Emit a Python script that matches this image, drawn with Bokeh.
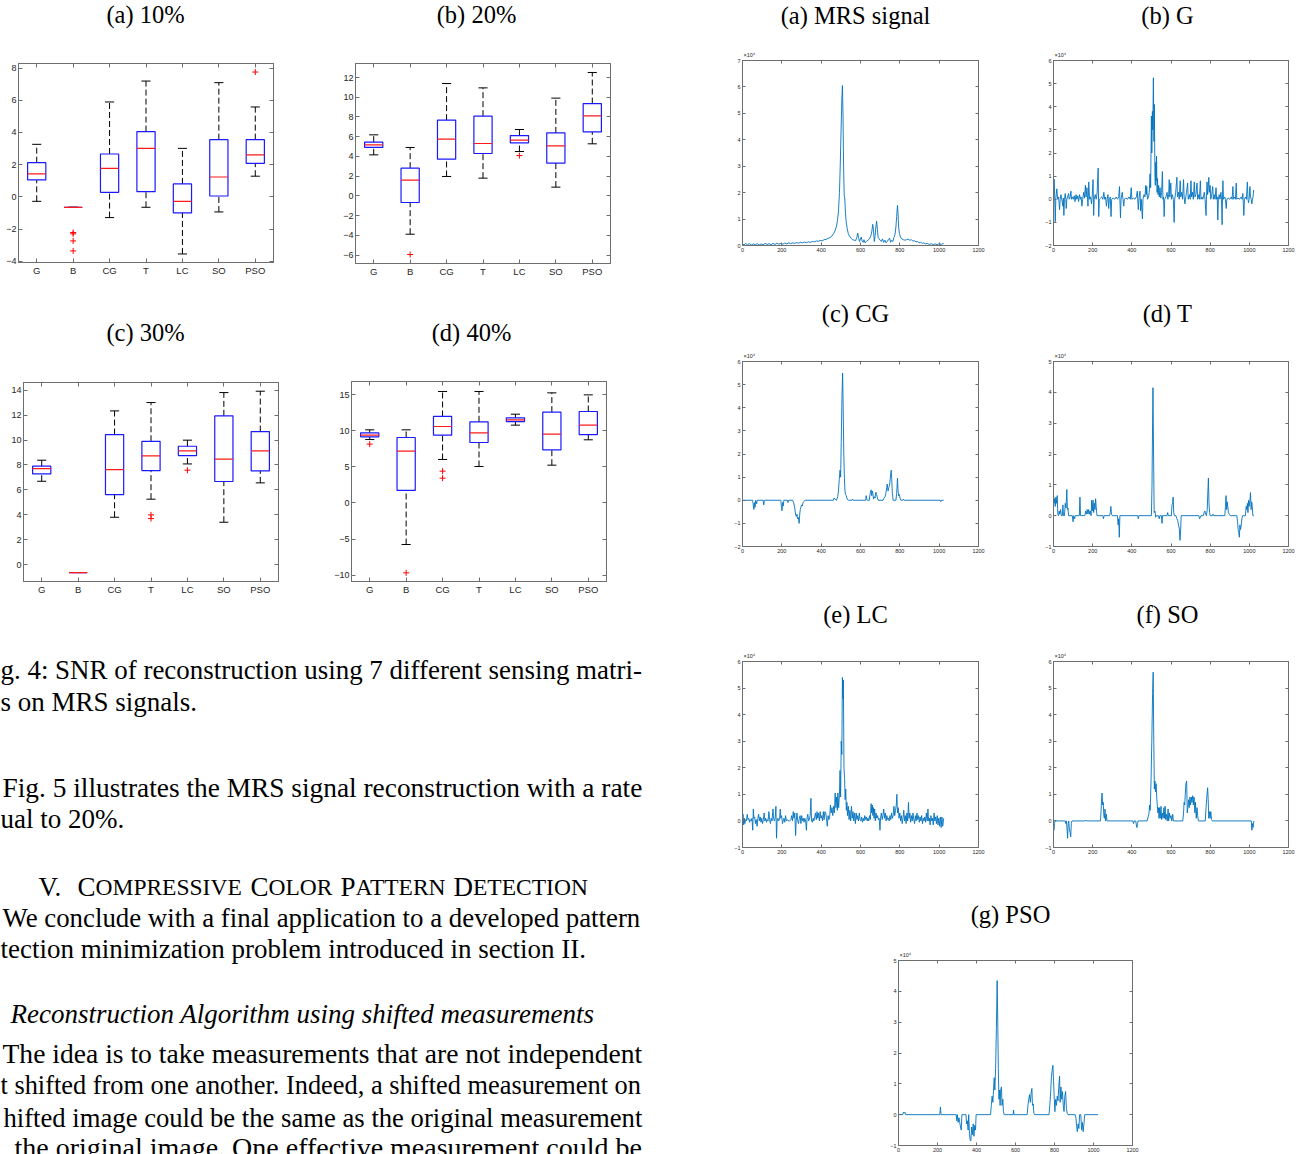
from bokeh.plotting import figure
from bokeh.layouts import row, column
from bokeh.models import Range1d, LinearAxis, FixedTicker, Spacer
from bokeh.embed import file_html
from bokeh.resources import INLINE
from bokeh.core.properties import value

# ---------------- data ----------------
CATS = ["G", "B", "CG", "T", "LC", "SO", "PSO"]

# (a) 10%
A_WLO = [-0.28, -0.65, -1.29, -0.65, -3.55, -0.94, 1.28]
A_Q1 = [1.05, -0.65, 0.28, 0.32, -1.00, 0.05, 2.08]
A_MED = [1.42, -0.65, 1.77, 3.01, -0.28, 1.23, 2.60]
A_Q3 = [2.12, -0.65, 2.66, 4.05, 0.80, 3.55, 3.55]
A_WHI = [3.26, -0.65, 5.89, 7.19, 3.01, 7.09, 5.58]
A_OUT_CAT = ["B", "B", "B", "B", "PSO"]
A_OUT_VAL = [-2.22, -2.30, -2.74, -3.36, 7.75]
A_YTICKS = [-4, -2, 0, 2, 4, 6, 8]

# (b) 20%
B_WLO = [4.16, -3.88, 1.97, 1.80, 4.50, 0.89, 5.28]
B_Q1 = [4.91, -0.67, 3.72, 4.30, 5.38, 3.32, 6.49]
B_MED = [5.18, 1.59, 5.75, 5.31, 5.65, 5.07, 8.11]
B_Q3 = [5.45, 2.81, 7.68, 8.08, 6.12, 6.39, 9.36]
B_WHI = [6.19, 4.91, 11.39, 10.95, 6.73, 9.91, 12.51]
B_OUT_CAT = ["B", "LC"]
B_OUT_VAL = [-5.94, 4.09]
B_YTICKS = [-6, -4, -2, 0, 2, 4, 6, 8, 10, 12]

# (c) 30%
C_WLO = [6.69, -0.64, 3.80, 5.25, 8.08, 3.40, 6.56]
C_Q1 = [7.28, -0.64, 5.62, 7.55, 8.75, 6.67, 7.52]
C_MED = [7.71, -0.64, 7.63, 8.73, 9.13, 8.46, 9.13]
C_Q3 = [7.90, -0.64, 10.44, 9.90, 9.50, 11.94, 10.68]
C_WHI = [8.38, -0.64, 12.34, 13.01, 9.99, 13.81, 13.92]
C_OUT_CAT = ["T", "T", "LC"]
C_OUT_VAL = [3.99, 3.69, 7.58]
C_YTICKS = [0, 2, 4, 6, 8, 10, 12, 14]

# (d) 40%
D_WLO = [8.77, -5.76, 6.01, 5.04, 10.76, 5.22, 8.73]
D_Q1 = [9.14, 1.72, 9.37, 8.36, 11.26, 7.34, 9.46]
D_MED = [9.37, 7.16, 10.57, 9.70, 11.49, 9.51, 10.76]
D_Q3 = [9.70, 9.05, 11.96, 11.22, 11.77, 12.56, 12.65]
D_WHI = [10.11, 10.11, 15.42, 15.42, 12.28, 15.23, 14.95]
D_OUT_CAT = ["G", "B", "CG", "CG"]
D_OUT_VAL = [8.13, -9.68, 4.39, 3.42]
D_YTICKS = [-10, -5, 0, 5, 10, 15]

# reconstructed MRS signals (index, value in units of 1e4)
MRS_SIG = [(0,0.06),(8,0.02),(15,0.08),(25,0.03),(35,0.07),(45,0.02),(55,0.06),(65,0.03),(75,0.07),(85,0.02),(95,0.06),(105,0.03),(115,0.08),(125,0.04),(135,0.07),(145,0.03),(155,0.08),(165,0.04),(175,0.09),(185,0.05),(195,0.08),(205,0.05),(215,0.09),(225,0.06),(235,0.1),(245,0.07),(255,0.1),(265,0.08),(275,0.11),(285,0.09),(295,0.12),(305,0.1),(315,0.13),(325,0.11),(335,0.14),(345,0.12),(355,0.15),(365,0.14),(375,0.17),(385,0.16),(395,0.19),(405,0.18),(415,0.22),(425,0.23),(435,0.27),(445,0.3),(455,0.36),(463,0.45),(470,0.55),(477,0.7),(483,0.95),(488,1.3),(493,2.0),(497,3.0),(501,4.3),(505,5.5),(508,6.05),(511,5.0),(514,3.0),(517,1.9),(520,1.8),(523,1.3),(527,0.9),(532,0.65),(538,0.45),(545,0.35),(552,0.28),(560,0.22),(568,0.2),(575,0.18),(581,0.3),(586,0.47),(590,0.3),(595,0.15),(600,0.25),(604,0.32),(608,0.18),(613,0.12),(618,0.22),(623,0.1),(630,0.15),(638,0.2),(645,0.25),(652,0.35),(658,0.55),(662,0.8),(666,0.6),(670,0.15),(674,0.35),(678,0.7),(682,0.92),(686,0.6),(690,0.3),(695,0.25),(700,0.2),(706,0.15),(712,0.25),(718,0.12),(724,0.2),(730,0.1),(736,0.15),(742,0.22),(748,0.28),(753,0.12),(758,0.2),(764,0.15),(770,0.3),(775,0.4),(780,0.7),(784,1.1),(788,1.52),(791,1.2),(794,0.7),(798,0.45),(803,0.32),(810,0.25),(818,0.22),(826,0.2),(834,0.22),(842,0.24),(850,0.2),(858,0.22),(866,0.17),(874,0.18),(882,0.14),(890,0.15),(898,0.1),(906,0.12),(914,0.08),(922,0.1),(930,0.06),(940,0.08),(950,0.04),(960,0.07),(970,0.03),(980,0.06),(990,0.03),(1000,0.07),(1010,0.04),(1023,0.08)]

G_SIG = [(0,0.0),(3,0.87),(6,0.1),(9,-0.97),(12,0.05),(17,0.45),(21,0.0),(26,0.1),(31,-0.45),(34,0.0),(38,0.2),(42,0.0),(48,-0.3),(50,0.05),(53,-0.7),(56,0.0),(60,0.25),(63,0.0),(65,-0.4),(68,0.0),(72,0.1),(77,0.25),(80,0.0),(84,0.05),(89,0.35),(92,0.0),(97,0.1),(101,0.0),(106,0.15),(110,-0.1),(115,0.2),(119,0.0),(124,0.15),(128,-0.1),(133,0.2),(137,0.0),(141,0.1),(145,-0.3),(149,0.0),(154,0.3),(158,0.05),(163,0.6),(166,0.1),(171,0.5),(174,0.0),(176,-0.3),(178,0.1),(180,0.75),(184,0.0),(189,0.1),(194,-0.2),(198,0.2),(202,0.85),(205,-0.7),(208,0.0),(213,0.2),(218,0.0),(223,0.3),(228,1.35),(231,-0.75),(234,0.0),(240,0.05),(246,0.1),(252,0.0),(257,0.3),(261,0.0),(266,0.1),(270,-0.3),(274,0.0),(278,0.2),(282,-0.4),(285,0.0),(290,0.1),(294,-0.75),(297,0.0),(305,0.05),(313,0.0),(320,0.1),(327,0.0),(333,0.1),(337,0.55),(342,-0.8),(345,0.0),(351,0.3),(355,0.0),(359,-0.3),(362,0.0),(370,0.05),(378,0.0),(386,0.1),(392,0.0),(397,0.5),(400,0.0),(408,0.05),(416,0.0),(423,0.1),(428,0.35),(433,-0.45),(437,0.1),(442,0.35),(445,-0.5),(448,0.0),(454,-0.85),(457,0.0),(462,0.2),(467,0.1),(471,0.6),(474,0.2),(476,0.55),(480,0.0),(485,0.1),(489,0.3),(493,1.1),(496,0.5),(500,3.6),(502,2.0),(505,3.8),(507,3.0),(510,5.25),(513,2.5),(515,4.1),(518,1.0),(520,0.6),(522,1.6),(524,0.8),(526,1.87),(529,0.3),(531,0.9),(534,0.2),(537,0.6),(540,0.1),(544,0.5),(548,0.05),(552,0.3),(556,1.2),(559,0.0),(562,0.1),(565,-0.75),(568,0.0),(574,0.1),(580,0.3),(584,0.0),(588,0.2),(591,0.85),(594,0.1),(599,0.7),(602,0.0),(607,0.2),(612,0.0),(616,-1.0),(619,0.0),(624,0.3),(630,0.95),(633,0.1),(638,0.3),(642,0.0),(647,0.8),(650,0.1),(655,0.3),(659,0.0),(664,0.85),(667,0.1),(671,-0.2),(674,0.0),(679,0.3),(685,0.7),(688,0.0),(694,0.2),(698,0.0),(702,0.8),(705,0.1),(710,0.3),(714,0.0),(719,0.75),(722,0.1),(727,0.2),(733,0.7),(736,0.0),(741,0.2),(745,0.0),(750,0.8),(753,0.0),(758,0.1),(763,0.0),(770,0.3),(774,0.0),(779,-0.7),(781,0.0),(784,0.75),(787,0.2),(790,0.5),(793,0.95),(796,0.3),(800,0.6),(803,0.0),(808,0.2),(813,0.55),(816,0.0),(821,0.2),(825,0.0),(830,0.5),(833,0.0),(836,0.1),(839,-0.9),(842,0.0),(846,0.2),(850,0.0),(855,0.3),(858,0.0),(861,-1.1),(863,0.1),(865,0.8),(868,0.0),(874,0.1),(878,0.0),(882,-0.4),(885,0.0),(892,0.05),(900,0.0),(908,0.1),(912,0.0),(916,0.55),(919,0.0),(925,0.1),(929,0.0),(933,0.7),(936,0.0),(942,0.05),(950,0.0),(958,0.1),(963,0.0),(967,0.25),(972,-0.7),(975,0.0),(980,0.1),(985,0.0),(990,0.75),(993,0.0),(996,-0.15),(999,0.0),(1003,0.55),(1006,0.1),(1010,0.0),(1013,-0.2),(1016,0.0),(1019,0.1),(1022,0.4)]

CG_SIG = [(0,0),(52,0),(55,-0.25),(58,-0.4),(61,-0.1),(64,-0.3),(67,0),(72,-0.15),(75,0),(105,0),(108,-0.2),(111,0),(195,0),(198,-0.3),(201,-0.45),(204,-0.1),(207,-0.25),(210,0),(228,0),(231,-0.1),(234,0),(255,0),(260,-0.1),(265,-0.3),(269,-0.55),(273,-0.7),(277,-0.6),(280,-0.8),(284,-0.75),(288,-1.0),(291,-0.6),(294,-0.4),(297,-0.3),(300,-0.2),(304,-0.25),(308,-0.1),(312,-0.05),(318,0),(462,0),(466,0.1),(470,0.05),(478,0),(484,0.15),(488,0.4),(492,0.9),(496,1.3),(499,1.0),(502,2.5),(506,4.5),(509,5.5),(512,4.0),(515,2.0),(518,1.0),(521,0.4),(524,0.25),(528,0.2),(532,0.05),(538,0),(556,0),(559,0.05),(562,0),(626,0),(629,0.2),(632,0.05),(635,0),(645,0),(648,0.25),(651,0.35),(654,0.45),(657,0.2),(660,0.4),(663,0.3),(666,0.05),(670,0.15),(674,0.1),(678,0.35),(682,0.25),(686,0.1),(690,0),(715,0),(720,0.1),(725,0.15),(729,0.3),(733,0.55),(736,0.7),(740,0.4),(744,0.55),(748,0.65),(752,1.0),(756,1.3),(759,0.9),(762,0.3),(766,0),(780,0),(784,0.3),(788,0.95),(791,0.4),(794,0.2),(797,0.25),(801,0.1),(806,0),(815,0),(818,0.05),(822,0),(1005,0),(1008,-0.06),(1012,0),(1023,0)]

T_SIG = [(0,0.7),(3,0.4),(6,0.55),(9,0.3),(12,0.6),(15,0.4),(19,0.65),(22,0.05),(26,0.0),(29,0.15),(32,0.05),(36,0.2),(40,0.0),(45,0.0),(48,0.35),(51,0.0),(56,0.0),(60,0.4),(64,0.25),(68,0.85),(71,0.2),(74,0.25),(77,0.0),(96,0.0),(100,-0.2),(103,0.0),(108,-0.1),(111,0.0),(132,0.0),(135,0.6),(138,0.0),(160,0.0),(164,0.15),(168,0.05),(172,0.2),(176,0.05),(180,0.2),(184,0.05),(188,0.15),(192,0.0),(195,0.5),(198,0.15),(202,0.5),(205,0.1),(209,0.4),(212,0.2),(215,0.55),(218,0.3),(222,0.0),(252,0.0),(255,-0.1),(258,0.0),(286,0.0),(290,0.1),(293,0.3),(296,0.05),(300,0.0),(326,0.0),(330,-0.3),(333,-0.1),(336,-0.7),(339,0.0),(430,0.0),(433,-0.1),(436,0.0),(500,0.0),(503,1.0),(506,3.0),(508,4.15),(511,2.0),(514,0.1),(518,0.15),(522,-0.05),(526,0.0),(536,0.0),(540,-0.1),(543,0.0),(551,0.0),(554,-0.25),(557,0.0),(580,0.0),(583,0.1),(586,0.0),(602,0.0),(605,0.35),(608,0.4),(611,0.6),(614,0.1),(617,0.0),(625,0.0),(630,-0.1),(634,-0.15),(638,-0.3),(642,-0.4),(646,-0.8),(649,-0.5),(652,0.0),(742,0.0),(746,-0.1),(750,-0.05),(753,0.0),(765,0.0),(769,0.1),(773,0.15),(777,0.05),(781,0.0),(785,0.2),(789,0.9),(791,1.22),(794,0.4),(797,0.1),(800,0.0),(812,0.0),(815,0.05),(818,0.0),(875,0.0),(878,0.3),(881,0.65),(884,0.2),(887,0.45),(890,0.3),(893,0.1),(898,0.05),(903,0.0),(936,0.0),(940,-0.2),(943,-0.45),(946,-0.55),(949,-0.7),(952,-0.3),(955,-0.45),(958,-0.35),(962,-0.1),(966,0.0),(980,0.0),(984,0.3),(987,0.2),(990,0.4),(993,0.1),(996,0.5),(999,0.3),(1003,0.5),(1006,0.75),(1009,0.2),(1012,0.45),(1015,0.3),(1018,0.0),(1023,0.0)]

LC_SIG = [(0,0.1),(3,0.25),(6,-0.15),(9,0.1),(12,-0.1),(16,0.05),(20,0.0),(24,0.25),(28,0.05),(32,0.1),(36,-0.05),(40,0.05),(44,0.0),(48,0.1),(52,-0.35),(55,0.45),(58,0.1),(62,0.15),(66,-0.1),(70,0.05),(74,-0.2),(78,0.1),(82,0.25),(86,0.0),(90,0.15),(94,-0.05),(98,0.1),(102,-0.1),(106,0.05),(110,0.3),(114,0.0),(118,0.1),(122,-0.05),(126,0.05),(130,0.0),(134,0.35),(138,0.05),(142,-0.1),(146,0.1),(150,0.0),(155,0.45),(158,0.1),(162,0.0),(166,0.1),(170,0.55),(173,-0.65),(176,0.0),(180,0.1),(184,0.0),(188,0.05),(192,0.45),(195,0.1),(199,0.2),(203,-0.1),(207,0.0),(211,0.1),(215,-0.05),(219,0.2),(223,0.0),(228,0.05),(233,0.0),(240,0.0),(246,0.05),(250,0.2),(254,0.0),(258,0.35),(262,0.1),(266,0.3),(270,-0.55),(273,0.0),(277,0.3),(281,0.0),(285,-0.1),(289,0.1),(293,0.2),(297,-0.1),(301,0.2),(305,0.0),(309,0.1),(313,-0.05),(317,0.1),(321,0.0),(325,-0.35),(328,0.1),(332,0.25),(336,0.0),(340,0.05),(344,0.2),(348,0.85),(351,0.0),(355,-0.05),(359,0.1),(363,0.0),(367,0.15),(371,0.3),(375,0.05),(379,0.35),(383,0.1),(387,0.3),(391,0.0),(395,0.35),(399,0.1),(403,0.2),(407,0.0),(411,0.35),(415,0.05),(419,0.35),(423,0.3),(427,0.1),(431,-0.2),(435,0.2),(439,0.05),(443,0.1),(447,0.6),(451,0.3),(455,0.5),(459,0.2),(463,0.55),(467,0.3),(471,1.05),(475,0.5),(479,0.9),(482,0.4),(485,1.05),(489,0.5),(493,1.0),(496,1.9),(499,0.9),(502,3.0),(505,2.5),(508,5.4),(511,4.6),(513,5.3),(516,2.0),(519,1.6),(522,0.8),(525,1.2),(528,0.4),(531,0.7),(534,0.2),(538,0.55),(542,0.05),(546,0.4),(550,0.0),(554,0.55),(558,0.1),(562,0.35),(566,0.0),(570,0.3),(574,-0.1),(578,0.3),(582,0.05),(586,0.2),(590,0.0),(594,0.3),(598,0.05),(602,0.0),(606,0.15),(610,-0.05),(614,0.1),(618,0.0),(622,0.2),(626,0.05),(630,0.15),(634,0.0),(638,0.1),(642,0.0),(646,0.2),(650,0.05),(654,0.65),(657,0.3),(660,0.6),(663,0.2),(666,0.5),(669,0.1),(672,0.45),(675,0.0),(679,0.3),(683,0.1),(687,0.2),(691,0.05),(695,0.1),(699,-0.35),(702,0.1),(706,0.3),(710,0.05),(714,0.2),(718,0.45),(722,0.1),(726,0.3),(730,0.0),(734,0.2),(738,0.05),(742,0.1),(746,0.0),(750,0.2),(754,0.05),(758,0.3),(762,0.1),(766,0.2),(770,0.55),(774,0.2),(778,0.4),(782,0.6),(785,1.0),(788,0.3),(792,0.5),(796,0.1),(800,0.3),(804,0.0),(808,0.2),(812,-0.1),(816,0.1),(820,0.4),(824,0.0),(828,0.2),(832,-0.1),(836,0.3),(840,0.0),(844,0.7),(847,0.1),(851,0.3),(855,-0.05),(859,0.2),(863,0.0),(867,0.3),(871,0.05),(875,-0.1),(879,0.2),(883,0.0),(887,0.3),(891,0.05),(895,0.2),(899,-0.05),(903,0.15),(907,0.0),(911,0.2),(915,-0.1),(919,0.1),(923,0.0),(927,0.15),(931,-0.05),(935,0.3),(939,0.0),(943,0.45),(946,0.0),(950,0.1),(954,-0.15),(958,0.2),(962,0.0),(966,0.1),(970,-0.15),(974,0.3),(978,0.0),(982,0.15),(986,-0.1),(990,0.2),(994,-0.15),(998,0.1),(1002,-0.2),(1006,0.15),(1010,-0.25),(1014,0.15),(1018,-0.2),(1023,0.1)]

SO_SIG = [(0,0.0),(2,-0.35),(5,-0.1),(8,0.0),(60,0.0),(63,-0.1),(66,0.0),(69,-0.3),(72,-0.65),(75,-0.1),(78,0.0),(81,-0.3),(85,-0.45),(88,-0.6),(91,-0.1),(94,0.0),(162,0.0),(165,0.03),(168,0.0),(240,0.0),(243,0.4),(246,0.9),(248,1.05),(251,0.6),(254,0.7),(257,0.2),(260,0.1),(263,0.45),(266,0.0),(270,0.25),(273,0.0),(405,0.0),(409,-0.1),(412,0.0),(420,0.0),(423,-0.15),(426,-0.25),(429,-0.1),(432,0.0),(478,0.0),(483,0.15),(487,0.25),(491,0.6),(494,0.4),(498,1.5),(502,3.0),(506,4.8),(509,5.6),(512,3.0),(515,1.2),(518,1.5),(521,1.1),(524,1.4),(527,0.9),(530,0.6),(533,0.3),(536,0.5),(539,0.1),(542,0.5),(545,0.1),(549,0.55),(552,0.05),(556,0.3),(560,0.1),(564,0.5),(567,0.1),(570,0.55),(573,0.05),(577,0.25),(581,0.0),(585,0.45),(588,0.0),(592,0.3),(596,0.1),(600,0.2),(604,0.0),(609,0.25),(612,0.0),(660,0.0),(664,0.3),(667,0.7),(670,0.6),(673,1.0),(676,1.4),(680,1.5),(683,0.3),(686,0.5),(690,0.8),(693,0.5),(697,0.9),(700,0.6),(704,0.9),(707,0.7),(711,0.95),(714,0.6),(718,0.9),(722,0.3),(725,0.7),(729,0.1),(733,0.5),(736,0.2),(740,0.0),(775,0.0),(779,0.5),(783,0.9),(787,1.25),(790,0.8),(793,0.1),(796,0.35),(800,0.1),(803,0.35),(807,0.05),(811,0.0),(1010,0.0),(1013,-0.35),(1016,-0.1),(1019,-0.25),(1023,0.0)]

PSO_SIG = [(0,0.0),(22,0.0),(25,0.08),(29,0.05),(33,0.08),(37,0.0),(212,0.0),(215,0.25),(218,0.0),(296,0.0),(299,-0.2),(302,0.0),(306,-0.25),(310,-0.1),(314,-0.25),(318,-0.4),(322,-0.5),(325,0.0),(346,0.0),(349,-0.3),(353,-0.2),(357,-0.5),(360,0.0),(364,-0.6),(367,-0.8),(371,-0.85),(375,-0.4),(379,-0.65),(383,-0.3),(387,-0.7),(391,-0.35),(395,-0.5),(398,0.0),(472,0.0),(476,0.3),(480,0.6),(484,0.4),(488,0.9),(491,1.2),(494,0.8),(498,1.5),(502,2.8),(506,4.35),(509,3.0),(512,1.5),(515,0.5),(518,0.8),(521,0.3),(524,0.8),(528,0.9),(531,0.3),(535,0.5),(538,0.1),(542,0.0),(588,0.0),(590,0.15),(592,0.0),(660,0.0),(664,0.3),(668,0.5),(672,0.65),(676,0.4),(680,0.7),(684,0.85),(687,0.3),(691,0.35),(694,0.05),(698,0.0),(772,0.0),(776,0.3),(780,0.7),(784,1.2),(788,1.45),(792,1.6),(795,1.1),(799,0.5),(802,0.1),(806,0.5),(810,0.3),(814,0.6),(818,0.45),(822,0.9),(826,1.25),(829,0.4),(833,0.9),(837,0.5),(841,0.75),(845,0.3),(849,0.1),(853,0.6),(857,0.75),(861,0.2),(865,0.05),(869,0.0),(906,0.0),(910,-0.1),(913,-0.35),(917,-0.55),(921,-0.3),(925,-0.45),(929,0.0),(935,0.0),(939,-0.5),(943,-0.25),(947,-0.55),(951,-0.3),(955,0.0),(1023,0.0)]

SIG_XTICKS = [0, 200, 400, 600, 800, 1000, 1200]

BODY_LINES = [
    "g. 4: SNR of reconstruction using 7 different sensing matri-",
    "s on MRS signals.",
    "Fig. 5 illustrates the MRS signal reconstruction with a rate",
    "ual to 20%.",
    "We conclude with a final application to a developed pattern",
    "tection minimization problem introduced in section II.",
    "The idea is to take measurements that are not independent",
    "t shifted from one another. Indeed, a shifted measurement on",
    "hifted image could be the same as the original measurement",
    "the original image. One effective measurement could be",
]
ITALIC_LINE = "Reconstruction Algorithm using shifted measurements"
HEAD_WORDS = ["V.", "COMPRESSIVE", "COLOR", "PATTERN", "DETECTION"]

# ---------------- style ----------------
AX = "#6e6e6e"
TXT = "#262626"
SANS = "Liberation Sans"
SERIF = "Liberation Serif"
LINE = "#0072BD"
TITLE_SIZE = "24.5px"
BODY_SIZE = 27.0
RIGHT_EDGE = 642

# Times-compatible advance widths (1/1000 em) used to fit justified lines
TW = {" ": 250, "%": 833, "(": 333, ")": 333, ",": 250, "-": 333, ".": 250, ":": 278}
TW.update({d: 500 for d in "0123456789"})
TW.update(dict(zip("ABCDEFGHIJKLMNOPQRSTUVWXYZ",
                   [722, 667, 667, 722, 611, 556, 722, 722, 333, 389, 722, 611, 889,
                    722, 722, 556, 722, 667, 556, 611, 722, 722, 944, 722, 722, 611])))
TW.update(dict(zip("abcdefghijklmnopqrstuvwxyz",
                   [444, 500, 444, 500, 444, 333, 500, 500, 278, 278, 500, 278, 778,
                    500, 500, 500, 500, 333, 389, 278, 500, 500, 722, 500, 500, 444])))


def em_width(s):
    return sum(TW.get(ch, 500) for ch in s) / 1000.0


def bare_fig(xr, yr, w, h, bl=0, br=0):
    """A figure without axes whose data coordinates are page pixels."""
    p = figure(width=w, height=h, x_range=Range1d(*xr), y_range=Range1d(*yr),
               x_axis_type=None, y_axis_type=None, output_backend="svg",
               toolbar_location=None, min_border_left=bl, min_border_right=br,
               min_border_top=0, min_border_bottom=0)
    p.outline_line_color = None
    p.background_fill_color = "white"
    p.border_fill_color = "white"
    return p


def title_fig(x0, y0, w, h, bl, fw, title, tx, ty, mult=None):
    # frame of this strip lines up with the frame of the plot below it
    fl = x0 + bl
    p = bare_fig((fl, fl + fw), (y0 + h, y0), w, h, bl=bl, br=w - bl - fw)
    p.text(x=[tx], y=[ty], text=[title], text_font=value(SERIF), text_font_size=TITLE_SIZE,
           text_align="center", text_baseline="middle", text_color="black")
    if mult is not None:
        p.text(x=[fl + 1], y=[mult], text=["×10⁴"], text_font=value(SANS),
               text_font_size="5.5px", text_align="left", text_baseline="middle", text_color=TXT)
    return p


def style_axis(ax, ticks, size, tick_len, show_labels=True):
    ax.ticker = FixedTicker(ticks=ticks)
    ax.major_tick_in = tick_len
    ax.major_tick_out = 0
    ax.minor_tick_line_color = None
    ax.axis_line_color = AX
    ax.major_tick_line_color = AX
    ax.major_label_text_font = SANS
    if show_labels:
        ax.major_label_text_font_size = size
        ax.major_label_text_color = TXT
        ax.major_label_standoff = 2
    else:
        ax.major_label_text_font_size = "1px"
        ax.major_label_text_color = None
        ax.major_label_standoff = 0


def base_fig(width, height, xr, yr, bl, bt, fw, fh):
    p = figure(width=width, height=height, x_range=Range1d(*xr), y_range=Range1d(*yr),
               output_backend="svg", toolbar_location=None,
               min_border_left=bl, min_border_top=bt,
               min_border_right=width - bl - fw, min_border_bottom=height - bt - fh)
    p.xgrid.visible = False
    p.ygrid.visible = False
    p.outline_line_color = AX
    p.background_fill_color = "white"
    p.border_fill_color = "white"
    return p


def boxplot(wlo, q1, med, q3, whi, out_cat, out_val, yticks, ylim, width, height, bl, bt, fw, fh):
    p = base_fig(width, height, (0.5, 7.5), ylim, bl, bt, fw, fh)
    xs = list(range(1, len(CATS) + 1))
    hw, cw = 0.25, 0.125
    p.segment(x0=xs, y0=q3, x1=xs, y1=whi, line_color="black", line_width=1, line_dash="6 3")
    p.segment(x0=xs, y0=wlo, x1=xs, y1=q1, line_color="black", line_width=1, line_dash="6 3")
    p.segment(x0=[x - cw for x in xs], y0=whi, x1=[x + cw for x in xs], y1=whi, line_color="black", line_width=1)
    p.segment(x0=[x - cw for x in xs], y0=wlo, x1=[x + cw for x in xs], y1=wlo, line_color="black", line_width=1)
    p.quad(left=[x - hw for x in xs], right=[x + hw for x in xs], bottom=q1, top=q3,
           fill_color=None, line_color="#1a1aff", line_width=1.2)
    p.segment(x0=[x - hw for x in xs], y0=med, x1=[x + hw for x in xs], y1=med,
              line_color="#ff1a1a", line_width=1.2)
    ox = [CATS.index(c) + 1 for c in out_cat]
    p.scatter(ox, out_val, marker="cross", size=6, line_color="#ff0000", line_width=1)

    style_axis(p.xaxis[0], xs, "9.5px", 4)
    p.xaxis[0].major_label_overrides = {i + 1: c for i, c in enumerate(CATS)}
    style_axis(p.yaxis[0], yticks, "9px", 4)
    ta = LinearAxis()
    style_axis(ta, xs, "1px", 4, show_labels=False)
    p.add_layout(ta, "above")
    ra = LinearAxis()
    style_axis(ra, yticks, "1px", 4, show_labels=False)
    p.add_layout(ra, "right")
    return p


def sigplot(sig, ylim, width, height, bl, bt, fw, fh):
    p = base_fig(width, height, (0, 1200), ylim, bl, bt, fw, fh)
    xs = [a for a, b in sig]
    ys = [b for a, b in sig]
    p.line(xs, ys, line_color=LINE, line_width=0.9)
    yt = list(range(ylim[0], ylim[1] + 1))
    style_axis(p.xaxis[0], SIG_XTICKS, "5.5px", 3)
    style_axis(p.yaxis[0], yt, "5.5px", 3)
    ta = LinearAxis()
    style_axis(ta, SIG_XTICKS, "1px", 3, show_labels=False)
    p.add_layout(ta, "above")
    ra = LinearAxis()
    style_axis(ra, yt, "1px", 3, show_labels=False)
    p.add_layout(ra, "right")
    return p


# ---------------- box plots (left) ----------------
ta_ = title_fig(0, 0, 320, 59, 18, 255, "(a) 10%", 145, 14)
pa = boxplot(A_WLO, A_Q1, A_MED, A_Q3, A_WHI, A_OUT_CAT, A_OUT_VAL, A_YTICKS, (-4.08, 8.28),
             320, 241, 18, 4, 255, 199)
tb_ = title_fig(320, 0, 344, 59, 35, 255, "(b) 20%", 476, 14)
pb = boxplot(B_WLO, B_Q1, B_MED, B_Q3, B_WHI, B_OUT_CAT, B_OUT_VAL, B_YTICKS, (-6.85, 13.42),
             344, 241, 35, 4, 255, 200)
tc_ = title_fig(0, 300, 320, 78, 23, 255, "(c) 30%", 145, 332)
pc = boxplot(C_WLO, C_Q1, C_MED, C_Q3, C_WHI, C_OUT_CAT, C_OUT_VAL, C_YTICKS, (-1.36, 14.62),
             320, 230, 23, 4, 255, 199)
td_ = title_fig(320, 300, 344, 77, 31, 255, "(d) 40%", 471, 332)
pd_ = boxplot(D_WLO, D_Q1, D_MED, D_Q3, D_WHI, D_OUT_CAT, D_OUT_VAL, D_YTICKS, (-10.88, 16.8),
              344, 231, 31, 4, 255, 200)

# ---------------- body text ----------------
pt = bare_fig((0, 664), (1154, 608), 664, 546)
BODY_X = [0, 0, 2, 0, 2, 0, 2, 0, 3, 14]
BODY_Y = [669, 701, 787, 818, 917, 948, 1053, 1085, 1117, 1147]
BODY_JUSTIFIED = [True, False, True, False, True, False, True, True, True, True]
for line, bx, by, just in zip(BODY_LINES, BODY_X, BODY_Y, BODY_JUSTIFIED):
    size = BODY_SIZE
    if just:
        size = (RIGHT_EDGE - bx) / em_width(line)
        size = max(25.8, min(28.2, size))
    pt.text(x=[bx], y=[by], text=[line], text_font=value(SERIF), text_font_size=f"{size:.2f}px",
            text_baseline="middle", text_align="left", text_color="black")
pt.text(x=[10], y=[1013], text=[ITALIC_LINE], text_font=value(SERIF), text_font_size=f"{BODY_SIZE}px",
        text_font_style="italic", text_baseline="middle", text_align="left", text_color="black")

CAPW = {"C": 667, "P": 556, "D": 722}
SMALL = 23.5
HEAD_X = [38, 77, 250, 340, 453]
hx_big, ht_big, hx_small, ht_small = [], [], [], []
for w, hx in zip(HEAD_WORDS, HEAD_X):
    hx_big.append(hx)
    if w == "V.":
        ht_big.append(w)
    else:
        ht_big.append(w[0])
        hx_small.append(hx + CAPW[w[0]] * BODY_SIZE / 1000.0)
        ht_small.append(w[1:])
pt.text(x=hx_big, y=[886] * len(hx_big), text=ht_big, text_font=value(SERIF),
        text_font_size=f"{BODY_SIZE}px", text_baseline="alphabetic", text_align="left", text_color="black")
pt.text(x=hx_small, y=[886] * len(hx_small), text=ht_small, text_font=value(SERIF),
        text_font_size=f"{SMALL}px", text_baseline="alphabetic", text_align="left", text_color="black")

# ---------------- signal plots (right) ----------------
t1 = title_fig(664, 0, 352, 58, 78, 236, "(a) MRS signal", 855, 15, 54.5)
s1 = sigplot(MRS_SIG, (0, 7), 352, 227, 78, 2, 236, 185)
t2 = title_fig(1016, 0, 288, 58, 37, 235, "(b) G", 1167, 15, 54.5)
s2 = sigplot(G_SIG, (-2, 6), 288, 227, 37, 2, 235, 185)
t3 = title_fig(664, 285, 352, 74, 78, 236, "(c) CG", 855, 313, 355.5)
s3 = sigplot(CG_SIG, (-2, 6), 352, 226, 78, 2, 236, 185)
t4 = title_fig(1016, 285, 288, 74, 37, 235, "(d) T", 1167, 313, 355.5)
s4 = sigplot(T_SIG, (-1, 5), 288, 226, 37, 2, 235, 185)
t5 = title_fig(664, 585, 352, 74, 78, 236, "(e) LC", 855, 614, 655.5)
s5 = sigplot(LC_SIG, (-1, 6), 352, 227, 78, 2, 236, 186)
t6 = title_fig(1016, 585, 288, 74, 37, 235, "(f) SO", 1167, 614, 655.5)
s6 = sigplot(SO_SIG, (-1, 6), 288, 227, 37, 2, 235, 186)
t7 = title_fig(820, 886, 340, 72, 78, 234, "(g) PSO", 1010, 914, 954.5)
s7 = sigplot(PSO_SIG, (-1, 5), 340, 196, 78, 2, 234, 186)

left_col = column(row(column(ta_, pa), column(tb_, pb)),
                  row(column(tc_, pc), column(td_, pd_)),
                  pt)
right_col = column(row(column(t1, s1), column(t2, s2)),
                   row(column(t3, s3), column(t4, s4)),
                   row(column(t5, s5), column(t6, s6)),
                   row(Spacer(width=156, height=268), column(t7, s7)))
page = row(left_col, right_col)

open("out.html", "w").write(file_html(page, INLINE))
